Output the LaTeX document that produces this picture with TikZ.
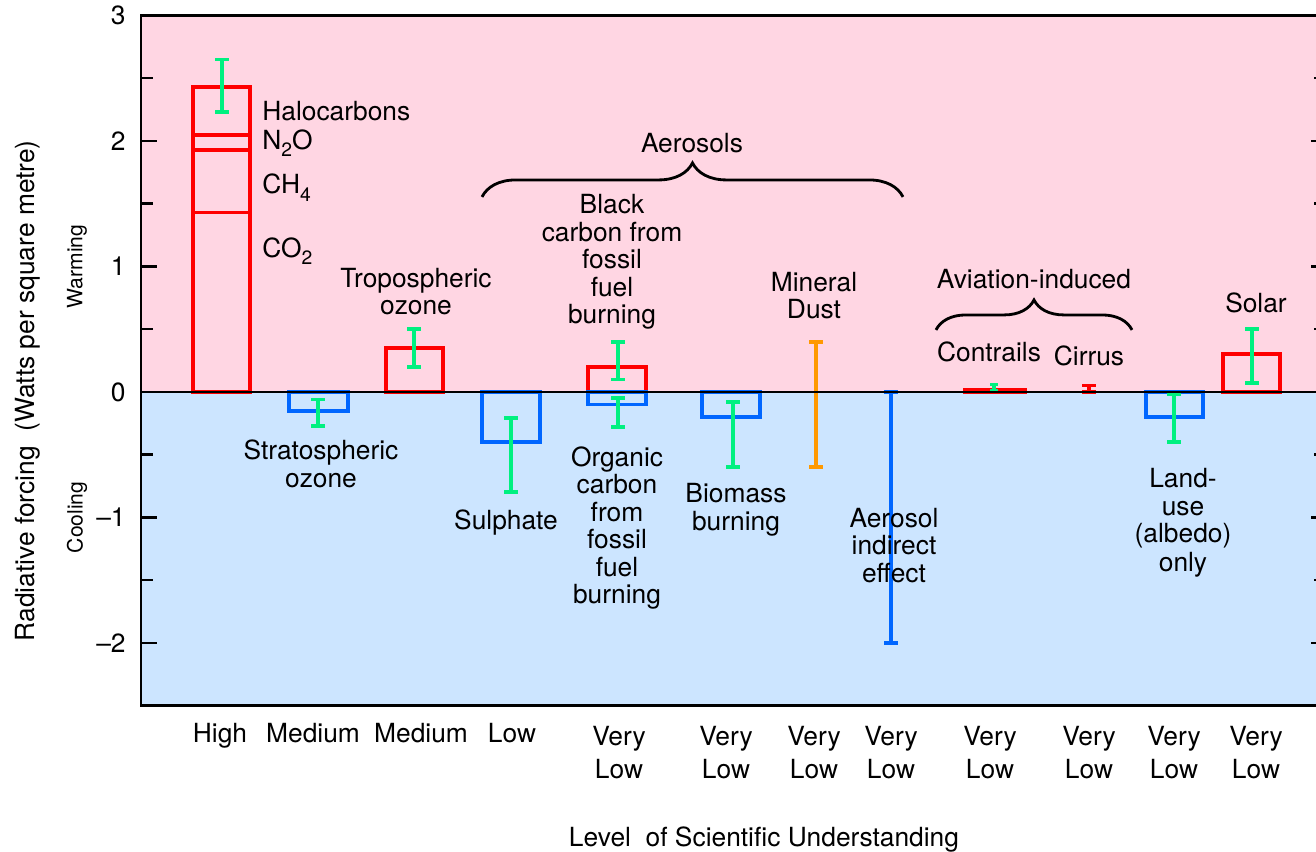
\documentclass[tikz,border=0pt]{standalone}
\usepackage{fontspec}
\setmainfont{TeX Gyre Heros}
\usetikzlibrary{decorations.pathreplacing}

\definecolor{warmpink}{RGB}{255,214,227}
\definecolor{coolblue}{RGB}{204,229,255}
\definecolor{barred}{RGB}{255,0,0}
\definecolor{barblue}{RGB}{0,102,255}
\definecolor{errgreen}{RGB}{0,240,128}
\definecolor{dustorange}{RGB}{255,153,0}

\newcommand{\lowsub}[1]{\raisebox{-0.55ex}{\fontsize{11}{11}\selectfont #1}}

\begin{document}
\begin{tikzpicture}[x=0.02cm, y=2.51cm,
    lbl/.style={font=\fontsize{15}{15.6}\selectfont, align=center, inner sep=0pt},
    smalllbl/.style={font=\fontsize{12}{12}\selectfont, inner sep=0pt},
    barline/.style={line width=2.1pt},
    axisline/.style={line width=1.4pt},
    brc/.style={decorate, line width=1.6pt}]

	\useasboundingbox (0,3.1235) rectangle (1316,-3.6653);
	% warming / cooling backgrounds
	\fill[warmpink] (141,0) rectangle (1327,3);
	\fill[coolblue] (141,0) rectangle (1327,-2.5);

	% bars
	\draw[barline,barred] (193,0) rectangle (250,2.43);
	\draw[barline,barred] (193,1.43) -- (250,1.43) (193,1.93) -- (250,1.93) (193,2.05) -- (250,2.05);
	\draw[barline,barblue] (289,0) rectangle (348,-0.15);
	\draw[barline,barred] (386,0) rectangle (443,0.35);
	\draw[barline,barblue] (482,0) rectangle (540,-0.4);
	\draw[barline,barred] (588,0) rectangle (646,0.2);
	\draw[barline,barblue] (588,0) rectangle (646,-0.1);
	\draw[barline,barblue] (702,0) rectangle (760,-0.2);
	\draw[barline,barred] (965,0) rectangle (1025,0.02);
	\draw[barline,barblue] (1146,0) rectangle (1203,-0.2);
	\draw[barline,barred] (1223,0) rectangle (1280,0.3);

	% error bars
	\foreach \x/\lo/\hi/\c/\w in {222/2.23/2.65/errgreen/7, 318/-0.06/-0.27/errgreen/7,
		414/0.2/0.5/errgreen/7, 511/-0.21/-0.8/errgreen/7, 618/0.1/0.4/errgreen/7,
		618/-0.05/-0.28/errgreen/7, 733/-0.08/-0.6/errgreen/7, 816/0.4/-0.6/dustorange/7,
		891/0/-2/barblue/7, 994/0.007/0.06/errgreen/4, 1089/0/0.05/barred/7,
		1174/-0.02/-0.4/errgreen/7, 1252/0.07/0.5/errgreen/7}{
		\draw[barline,\c] (\x-\w,\lo) -- (\x+\w,\lo) (\x,\lo) -- (\x,\hi) (\x-\w,\hi) -- (\x+\w,\hi);
	}

	% frame, zero line and ticks
	\draw[axisline] (141,3) rectangle (1327,-2.5);
	\draw[axisline] (141,0) -- (1327,0);
	\foreach \v in {-2,-1,0,1,2}{
		\draw[axisline] (141,\v) -- (157,\v) (1327,\v) -- (1311,\v);
	}
	\foreach \v in {-1.5,-0.5,0.5,1.5,2.5}{
		\draw[axisline] (141,\v) -- (153,\v) (1327,\v) -- (1314,\v);
	}
	\foreach \v/\t in {3/3, 2/2, 1/1, 0/0, -1/\textendash1, -2/\textendash2}{
		\node[lbl,anchor=east] (tick\v) at (126,\v) {\t};
	}

	% axis titles
	\node[lbl,rotate=90] (yaxis) at (28,0.01) {Radiative forcing\ \ (Watts per square metre)};
	\node[smalllbl,rotate=90] (warm) at (77,1.0) {Warming};
	\node[smalllbl,rotate=90] (cool) at (77,-1.0) {Cooling};
	\node[lbl,anchor=base] (xaxis) at (764,-3.62) {Level\ \ of Scientific Understanding};

	% greenhouse gas labels
	\node[lbl,anchor=base west] (halo) at (262,2.167) {Halocarbons};
	\node[lbl,anchor=base west] (nitro) at (262,1.934) {N\lowsub{2}O};
	\node[lbl,anchor=base west] (meth) at (262,1.578) {CH\lowsub{4}};
	\node[lbl,anchor=base west] (carb) at (262,1.073) {CO\lowsub{2}};

	% forcing labels
	\node[lbl] (tropo) at (416,0.799) {Tropospheric\\ozone};
	\node[lbl] (strato) at (321,-0.574) {Stratospheric\\ozone};
	\node[lbl] (sulph) at (506,-1.044) {Sulphate};
	\node[lbl] (blackc) at (612,1.036) {Black\\carbon from\\fossil\\fuel\\burning};
	\node[lbl] (orgc) at (617,-1.085) {Organic\\carbon\\from\\fossil\\fuel\\burning};
	\node[lbl] (biom) at (736,-0.938) {Biomass\\burning};
	\node[lbl] (dust) at (814,0.769) {Mineral\\Dust};
	\node[lbl] (indir) at (894,-1.223) {Aerosol\\indirect\\effect};
	\node[lbl] (contr) at (989,0.319) {Contrails};
	\node[lbl] (cirr) at (1089,0.287) {Cirrus};
	\node[lbl] (landu) at (1183,-1.044) {Land-\\use\\(albedo)\\[1pt]only};
	\node[lbl] (solar) at (1256,0.707) {Solar};

	% group braces
	\draw[brc,decoration={brace,amplitude=0.68cm}] (482,1.554) -- (903,1.554);
	\node[lbl] (aeros) at (692,1.986) {Aerosols};
	\draw[brc,decoration={brace,amplitude=0.6cm}] (936,0.494) -- (1132,0.494);
	\node[lbl] (aviat) at (1034,0.9) {Aviation-induced};

	% level of understanding
	\foreach \x/\t [count=\i] in {220/High, 313/Medium, 421/Medium, 512/Low}{
		\node[lbl,anchor=base] (lsu\i) at (\x,-2.794) {\t};
	}
	\foreach \x [count=\i] in {619,726,814,891,990,1089,1174,1256}{
		\node[lbl] (vlow\i) at (\x,-2.873) {Very\\[3.4pt]Low};
	}
\end{tikzpicture}
\end{document}
